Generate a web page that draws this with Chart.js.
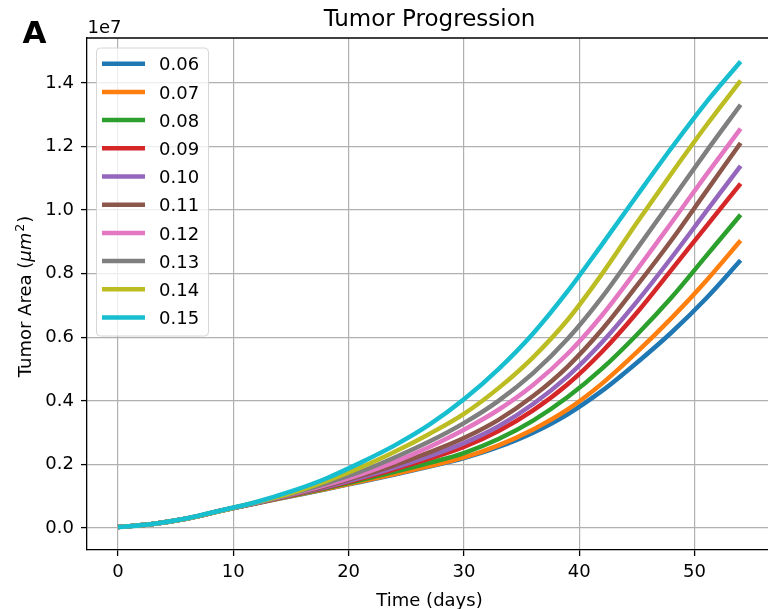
<!DOCTYPE html>
<html>
<head>
<meta charset="utf-8">
<script src="https://cdn.jsdelivr.net/npm/chart.js@4.4.1/dist/chart.umd.min.js"></script>
<style>
  html, body { margin: 0; padding: 0; overflow: hidden; background: #ffffff; width: 768px; height: 609px; }
  #wrap { width: 768px; height: 609px; overflow: hidden; position: relative; }
  canvas { display: block; position: absolute; left: 0; top: 0; }
</style>
</head>
<body>
<div id="wrap"><canvas id="c" width="900" height="620"></canvas></div>
<script>
// ---- data (tumor area in units of 1e7 µm²) ----
const days = [0, 3, 6, 9, 12, 15, 18, 21, 24, 27, 30, 33, 36, 39, 42, 45, 48, 51, 54];
const rateLabels = ['0.06', '0.07', '0.08', '0.09', '0.10', '0.11', '0.12', '0.13', '0.14', '0.15'];
const area006 = [0.003,0.013,0.030,0.055,0.078,0.100,0.122,0.145,0.168,0.193,0.220,0.255,0.300,0.358,0.432,0.520,0.615,0.722,0.842];
const area007 = [0.003,0.013,0.030,0.055,0.078,0.101,0.123,0.146,0.170,0.195,0.222,0.260,0.310,0.373,0.455,0.553,0.660,0.777,0.904];
const area008 = [0.003,0.013,0.030,0.055,0.079,0.102,0.125,0.150,0.177,0.205,0.236,0.280,0.338,0.412,0.502,0.608,0.725,0.855,0.985];
const area009 = [0.003,0.013,0.030,0.055,0.079,0.103,0.127,0.155,0.185,0.218,0.255,0.305,0.370,0.452,0.555,0.677,0.812,0.948,1.083];
const area010 = [0.003,0.013,0.030,0.055,0.079,0.104,0.129,0.158,0.190,0.226,0.267,0.320,0.390,0.477,0.585,0.712,0.850,0.995,1.139];
const area011 = [0.003,0.013,0.030,0.055,0.080,0.105,0.132,0.163,0.198,0.238,0.283,0.340,0.415,0.508,0.625,0.762,0.905,1.058,1.211];
const area012 = [0.003,0.013,0.030,0.055,0.080,0.106,0.135,0.168,0.208,0.255,0.309,0.372,0.450,0.548,0.670,0.812,0.960,1.110,1.256];
const area013 = [0.003,0.013,0.030,0.055,0.080,0.108,0.140,0.177,0.222,0.272,0.330,0.400,0.487,0.595,0.727,0.878,1.030,1.183,1.331];
const area014 = [0.003,0.013,0.030,0.055,0.081,0.110,0.147,0.190,0.240,0.296,0.359,0.440,0.537,0.655,0.800,0.960,1.115,1.265,1.407];
const area015 = [0.003,0.013,0.031,0.056,0.082,0.115,0.155,0.205,0.260,0.325,0.405,0.500,0.612,0.745,0.893,1.045,1.195,1.338,1.467];
const xTicks = [0, 10, 20, 30, 40, 50];
const yTicks = [0.0, 0.2, 0.4, 0.6, 0.8, 1.0, 1.2, 1.4];

const seriesValues = [area006, area007, area008, area009, area010, area011, area012, area013, area014, area015];
const colors = ['#1f77b4','#ff7f0e','#2ca02c','#d62728','#9467bd','#8c564b','#e377c2','#7f7f7f','#bcbd22','#17becf'];

const FONT = "'DejaVu Sans', 'Liberation Sans', sans-serif";
Chart.defaults.font.family = FONT;
Chart.defaults.color = '#000000';

const datasets = seriesValues.map((vals, i) => ({
  label: rateLabels[i],
  data: days.map((d, k) => ({ x: d, y: vals[k] })),
  borderColor: colors[i],
  backgroundColor: colors[i],
  borderWidth: 4.5,
  pointRadius: 0,
  fill: false,
  cubicInterpolationMode: 'monotone',
  order: seriesValues.length - i
}));

const extras = {
  id: 'extras',
  afterDraw(chart) {
    const ctx = chart.ctx;
    const a = chart.chartArea;
    const axesCenter = (a.left + 772) / 2; // matplotlib axes span x≈87..772
    ctx.save();
    // top spine (right spine lies outside the visible window)
    ctx.strokeStyle = '#000000';
    ctx.lineWidth = 1.3;
    ctx.beginPath();
    ctx.moveTo(a.left, a.top);
    ctx.lineTo(a.right, a.top);
    ctx.stroke();

    // chart title
    ctx.fillStyle = '#000000';
    ctx.font = '23px ' + FONT;
    ctx.textAlign = 'center';
    ctx.textBaseline = 'alphabetic';
    ctx.fillText('Tumor Progression', axesCenter, 26.3);

    // x-axis title
    ctx.font = '18px ' + FONT;
    ctx.fillText('Time (days)', axesCenter, 605.5);

    // legend
    const bx = 96.5, by = 48, bw = 112, bh = 288, r = 4;
    ctx.beginPath();
    ctx.moveTo(bx + r, by);
    ctx.lineTo(bx + bw - r, by);
    ctx.arcTo(bx + bw, by, bx + bw, by + r, r);
    ctx.lineTo(bx + bw, by + bh - r);
    ctx.arcTo(bx + bw, by + bh, bx + bw - r, by + bh, r);
    ctx.lineTo(bx + r, by + bh);
    ctx.arcTo(bx, by + bh, bx, by + bh - r, r);
    ctx.lineTo(bx, by + r);
    ctx.arcTo(bx, by, bx + r, by, r);
    ctx.closePath();
    ctx.fillStyle = 'rgba(255,255,255,0.8)';
    ctx.fill();
    ctx.strokeStyle = '#d6d6d6';
    ctx.lineWidth = 1;
    ctx.stroke();

    ctx.font = '18px ' + FONT;
    ctx.textAlign = 'left';
    ctx.textBaseline = 'alphabetic';
    chart.data.datasets.forEach((ds, i) => {
      const y = 63.7 + i * 28.2;
      ctx.strokeStyle = ds.borderColor;
      ctx.lineWidth = 4.5;
      ctx.beginPath();
      ctx.moveTo(102, y);
      ctx.lineTo(145, y);
      ctx.stroke();
      ctx.fillStyle = '#000000';
      ctx.fillText(ds.label, 159, y + 6.6);
    });

    // offset text and panel letter
    ctx.fillStyle = '#000000';
    ctx.font = '18px ' + FONT;
    ctx.fillText('1e7', 87.5, 33.3);
    ctx.font = 'bold 31px ' + FONT;
    ctx.fillText('A', 22.5, 43.3);

    // y-axis label with math-style italic unit and superscript
    const parts = [
      { t: 'Tumor Area (', f: '18px ' + FONT, dy: 0 },
      { t: 'μm', f: 'italic 18px ' + FONT, dy: 0 },
      { t: '2', f: '12.6px ' + FONT, dy: -7.5 },
      { t: ')', f: '18px ' + FONT, dy: 0 }
    ];
    let total = 0;
    parts.forEach(p => { ctx.font = p.f; p.w = ctx.measureText(p.t).width; total += p.w; });
    total += 2;
    ctx.translate(31, 296.5);
    ctx.rotate(-Math.PI / 2);
    let x = -total / 2;
    parts.forEach((p, idx) => {
      ctx.font = p.f;
      ctx.fillText(p.t, x, p.dy);
      x += p.w + (idx === 1 ? 1 : 0) + (idx === 2 ? 1 : 0);
    });
    ctx.restore();
  }
};

new Chart(document.getElementById('c'), {
  type: 'line',
  data: { datasets },
  options: {
    responsive: false,
    animation: false,
    devicePixelRatio: 1,
    layout: { padding: { left: 0, top: 38, bottom: 0, right: 100 } },
    plugins: {
      legend: { display: false },
      tooltip: { enabled: false },
      title: { display: false }
    },
    scales: {
      x: {
        type: 'linear',
        min: -2.69,
        max: 59.15,
        afterBuildTicks(scale) { scale.ticks = xTicks.map(v => ({ value: v })); },
        afterFit(scale) { scale.height = 70; scale.paddingLeft = 0; scale.paddingRight = 0; },
        ticks: {
          font: { size: 18, family: FONT },
          color: '#000000',
          padding: 6,
          maxRotation: 0,
          callback: v => String(v)
        },
        grid: {
          color: '#b0b0b0',
          lineWidth: 1.2,
          tickColor: '#000000',
          tickWidth: 1.3,
          tickLength: 6
        },
        border: { display: true, color: '#000000', width: 1.3 },
        title: { display: false }
      },
      y: {
        type: 'linear',
        min: -0.069,
        max: 1.541,
        afterBuildTicks(scale) { scale.ticks = yTicks.map(v => ({ value: v })); },
        afterFit(scale) { scale.width = 87; scale.paddingTop = 0; scale.paddingBottom = 0; },
        ticks: {
          font: { size: 18, family: FONT },
          color: '#000000',
          padding: 7,
          callback: v => Number(v).toFixed(1)
        },
        grid: {
          color: '#b0b0b0',
          lineWidth: 1.2,
          tickColor: '#000000',
          tickWidth: 1.3,
          tickLength: 6
        },
        border: { display: true, color: '#000000', width: 1.3 },
        title: { display: false }
      }
    }
  },
  plugins: [extras]
});
</script>
</body>
</html>
